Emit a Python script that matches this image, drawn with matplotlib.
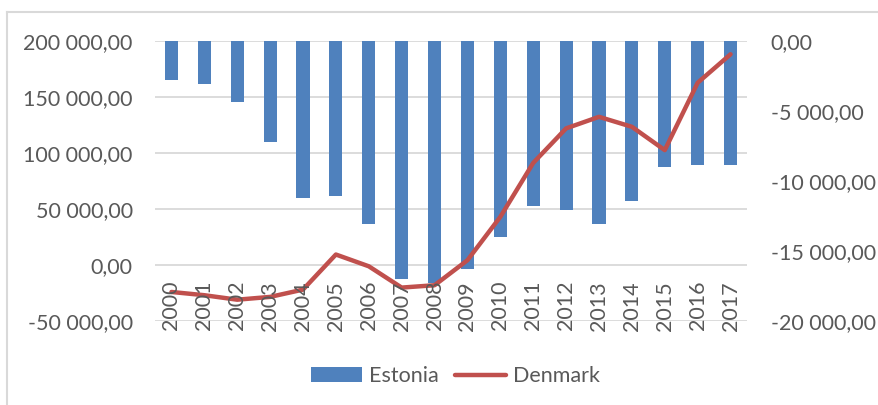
import matplotlib
matplotlib.use("Agg")
import matplotlib.pyplot as plt
from matplotlib.lines import Line2D
from matplotlib.patches import Patch
from matplotlib.ticker import FuncFormatter, FixedLocator
import numpy as np

plt.rcParams.update({
    "font.family": ["Lato", "DejaVu Sans"],
    "font.size": 15.5,
    "text.color": "#595959",
    "xtick.color": "#595959",
    "ytick.color": "#595959",
})

# ---------------------------------------------------------------------------
# Data
# ---------------------------------------------------------------------------
years = [str(y) for y in range(2000, 2018)]
estonia = [-2800, -3100, -4400, -7250, -11250, -11100, -13050, -17000, -17300,
           -16300, -14000, -11800, -12100, -13050, -11450, -9000, -8850, -8850]
denmark = [-24100, -27000, -31000, -28500, -22000, 9300, -1200, -20200, -18100,
           4200, 42900, 91000, 121800, 132100, 123200, 102400, 162500, 187900]

left_ticks = [-50000, 0, 50000, 100000, 150000, 200000]
right_ticks = [-20000, -15000, -10000, -5000, 0]

BLUE = "#4F81BD"
RED = "#C0504D"
GRID = "#D9D9D9"


def fmt(v, pos=None):
    s = f"{abs(v):,.2f}".replace(",", " ").replace(".", ",")
    return ("-" if v < 0 else "") + s


x = np.arange(len(years))

fig = plt.figure(figsize=(8.79, 4.05), dpi=100)
ax = fig.add_axes([155 / 879, 84 / 405, 592 / 879, 280.3 / 405])

# left axis: grid + labels (Denmark scale)
ax.set_ylim(-50000, 200000)
ax.set_xlim(-0.5, len(years) - 0.5)
ax.yaxis.set_major_locator(FixedLocator(left_ticks))
ax.yaxis.set_major_formatter(FuncFormatter(fmt))
ax.grid(axis="y", color=GRID, linewidth=1.3)
ax.set_axisbelow(True)
ax.tick_params(axis="y", length=0, pad=16)
ax.set_xticks([])
for s in ax.spines.values():
    s.set_visible(False)

# right axis: Estonia bars
axb = ax.twinx()
axb.bar(x, estonia, width=0.4, color=BLUE, zorder=2)
axb.set_ylim(-20000, 0)
axb.yaxis.set_major_locator(FixedLocator(right_ticks))
axb.yaxis.set_major_formatter(FuncFormatter(fmt))
axb.tick_params(axis="y", length=0, pad=17)
for s in axb.spines.values():
    s.set_visible(False)

# line on top, on the left-axis scale
axl = ax.twinx()
axl.plot(x, denmark, color=RED, linewidth=3.2, solid_capstyle="round", solid_joinstyle="round")
axl.set_ylim(ax.get_ylim())
axl.set_yticks([])
for s in axl.spines.values():
    s.set_visible(False)

# category labels, rotated, sitting just under the zero line
for i, yr in enumerate(years):
    axl.text(i, 0.1430, yr, rotation=90, ha="center", va="top",
             transform=axl.get_xaxis_transform(), color="#595959")

handles = [Patch(facecolor=BLUE, edgecolor="none", label="Estonia"),
           Line2D([0], [0], color=RED, linewidth=3.2, solid_capstyle="round", label="Denmark")]
fig.legend(handles=handles, loc="center", bbox_to_anchor=(0.518, 0.0716), ncol=2,
           frameon=False, handlelength=2.4, handleheight=0.65, handletextpad=0.3,
           columnspacing=0.75)

# chart-area border (top and left edges visible in the reference)
fig.add_artist(Line2D([7 / 879, 1], [1 - 12 / 405, 1 - 12 / 405], color=GRID, linewidth=1.5))
fig.add_artist(Line2D([7 / 879, 7 / 879], [0, 1 - 12 / 405], color=GRID, linewidth=1.5))

fig.savefig("out.png", dpi=100)
